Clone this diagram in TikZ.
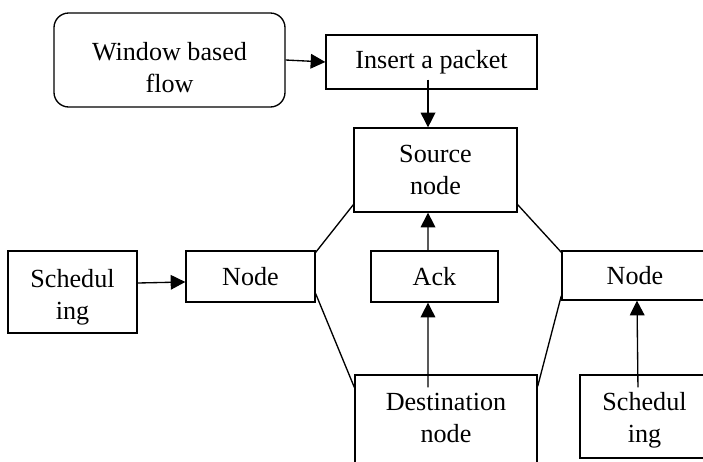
\documentclass[tikz,border=0pt]{standalone}
\usepackage{fontspec}
\setmainfont{Liberation Serif}
\usetikzlibrary{arrows.meta}

\begin{document}
\begin{tikzpicture}[x=0.75pt,y=-0.75pt,
	box/.style={draw,line width=1pt,inner sep=0pt,align=center,font={\fontsize{19.6}{24}\selectfont}},
	arr/.style={line width=1pt,-{Triangle[length=11pt,width=11pt]}},
	link/.style={line width=1pt}]
	%page
	\clip (0,0) rectangle (703,461);
	%top row
	\node[box,rounded corners=11pt,text height=49pt,minimum width=173.25pt,minimum height=70.5pt] (flow) at (169.5,60) {Window based\\flow};
	\node[box,minimum width=158.25pt,minimum height=40.5pt] (packet) at (431.5,62) {Insert a packet};
	\node[box,minimum width=122.25pt,minimum height=63pt] (source) at (435.5,170) {Source\\node};
	%middle row
	\node[box,text height=45.3pt,minimum width=96.75pt,minimum height=61.5pt] (schedL) at (72.5,292) {Schedul\\ing};
	\node[box,minimum width=96.75pt,minimum height=38.25pt] (nodeL) at (250.5,276.5) {Node};
	\node[box,minimum width=95.25pt,minimum height=38.25pt] (ack) at (434.5,276.5) {Ack};
	\node[box,minimum width=109.5pt,minimum height=36.75pt] (nodeR) at (635,275.5) {Node};
	%bottom row
	\node[box,text depth=14.5pt,minimum width=136.5pt,minimum height=79.5pt] (dest) at (446,428) {Destination\\node};
	\node[box,text height=43.3pt,minimum width=96.75pt,minimum height=62.25pt] (schedR) at (644.5,416.5) {Schedul\\ing};
	%arrows
	\draw[arr] (flow.east) -- (packet.west);
	\draw[arr] ([xshift=-2.6pt,yshift=7.5pt]packet.south) -- ([xshift=-5.6pt]source.north);
	\draw[arr] ([xshift=-4.9pt]ack.north) -- ([xshift=-5.6pt]source.south);
	\draw[arr] ([xshift=-13.5pt,yshift=-9.75pt]dest.north) -- ([xshift=-4.9pt]ack.south);
	\draw[arr] ([yshift=6.75pt]schedL.east) -- ([yshift=-4.1pt]nodeL.west);
	\draw[arr] ([xshift=-4.9pt,yshift=-9.75pt]schedR.north) -- ([xshift=1.5pt]nodeR.south);
	%links
	\draw[link] ([yshift=6pt]source.south west) -- ([yshift=-1.5pt]nodeL.north east);
	\draw[link] ([yshift=6.75pt]nodeL.south east) -- ([yshift=-9.75pt]dest.north west);
	\draw[link] ([yshift=6pt]source.south east) -- ([yshift=-1.5pt]nodeR.north west);
	\draw[link] ([yshift=3.75pt]nodeR.south west) -- ([yshift=-9pt]dest.north east);
\end{tikzpicture}
\end{document}
